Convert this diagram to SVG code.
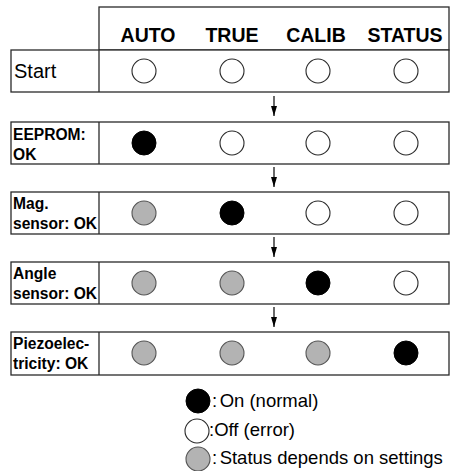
<svg xmlns="http://www.w3.org/2000/svg" width="452" height="471" viewBox="0 0 452 471">
  <style>
    .box { fill: #ffffff; stroke: #2a2a2a; stroke-width: 1.3; }
    .hdr { font-family: "Liberation Sans", Arial, sans-serif; font-weight: bold; font-size: 19.5px; fill: #000; text-anchor: middle; }
    .lbl { font-family: "Liberation Sans", Arial, sans-serif; font-weight: bold; font-size: 15.6px; fill: #000; }
    .start { font-family: "Liberation Sans", Arial, sans-serif; font-size: 20px; fill: #000; }
    .leg { font-family: "Liberation Sans", Arial, sans-serif; font-size: 18.5px; fill: #000; }
    .on { fill: #000000; stroke: #000000; stroke-width: 1; }
    .off { fill: #ffffff; stroke: #2a2a2a; stroke-width: 1.1; }
    .dep { fill: #b3b3b3; stroke: #555555; stroke-width: 1.1; }
    .conn { stroke: #1a1a1a; stroke-width: 1.3; fill: none; }
  </style>
  <defs>
    <!-- arrowhead drawn along +x, rotated to the line direction -->
    <marker id="arrowhead" markerWidth="10" markerHeight="6" refX="10" refY="3" orient="auto" markerUnits="userSpaceOnUse" viewBox="0 0 10 6">
      <path d="M0,0 L10,3 L0,6 Z" fill="#000"/>
    </marker>
  </defs>

  <!-- column header -->
  <g id="header">
    <rect class="box" x="99" y="7" width="350" height="43"/>
    <text class="hdr" x="148" y="42">AUTO</text>
    <text class="hdr" x="232" y="42">TRUE</text>
    <text class="hdr" x="316" y="42">CALIB</text>
    <text class="hdr" x="405" y="42">STATUS</text>
  </g>

  <!-- state rows -->
  <g id="row-start">
    <rect class="box" x="11" y="50" width="438" height="42"/>
    <line class="box" x1="99" y1="50" x2="99" y2="92"/>
    <text class="start" x="14" y="78">Start</text>
    <circle class="off" cx="144" cy="71" r="12"/>
    <circle class="off" cx="232" cy="71" r="12"/>
    <circle class="off" cx="318" cy="71" r="12"/>
    <circle class="off" cx="406" cy="71" r="12"/>
  </g>

  <g id="row-eeprom">
    <rect class="box" x="11" y="122" width="438" height="42"/>
    <line class="box" x1="99" y1="122" x2="99" y2="164"/>
    <text class="lbl" x="13" y="140">EEPROM:</text>
    <text class="lbl" x="13" y="160">OK</text>
    <circle class="on" cx="144" cy="143" r="12"/>
    <circle class="off" cx="232" cy="143" r="12"/>
    <circle class="off" cx="318" cy="143" r="12"/>
    <circle class="off" cx="406" cy="143" r="12"/>
  </g>

  <g id="row-mag">
    <rect class="box" x="11" y="192" width="438" height="42"/>
    <line class="box" x1="99" y1="192" x2="99" y2="234"/>
    <text class="lbl" x="13" y="209">Mag.</text>
    <text class="lbl" x="13" y="229">sensor: OK</text>
    <circle class="dep" cx="144" cy="213" r="12"/>
    <circle class="on" cx="232" cy="213" r="12"/>
    <circle class="off" cx="318" cy="213" r="12"/>
    <circle class="off" cx="406" cy="213" r="12"/>
  </g>

  <g id="row-angle">
    <rect class="box" x="11" y="262" width="438" height="42"/>
    <line class="box" x1="99" y1="262" x2="99" y2="304"/>
    <text class="lbl" x="13" y="279">Angle</text>
    <text class="lbl" x="13" y="299">sensor: OK</text>
    <circle class="dep" cx="144" cy="283" r="12"/>
    <circle class="dep" cx="232" cy="283" r="12"/>
    <circle class="on" cx="318" cy="283" r="12"/>
    <circle class="off" cx="406" cy="283" r="12"/>
  </g>

  <g id="row-piezo">
    <rect class="box" x="11" y="332" width="438" height="43"/>
    <line class="box" x1="99" y1="332" x2="99" y2="375"/>
    <text class="lbl" x="13" y="349">Piezoelec-</text>
    <text class="lbl" x="13" y="369">tricity: OK</text>
    <circle class="dep" cx="144" cy="353" r="12"/>
    <circle class="dep" cx="232" cy="353" r="12"/>
    <circle class="dep" cx="318" cy="353" r="12"/>
    <circle class="on" cx="406" cy="353" r="12"/>
  </g>

  <!-- sequence arrows -->
  <g id="connectors">
    <line class="conn" x1="274" y1="96" x2="274" y2="116" marker-end="url(#arrowhead)"/>
    <line class="conn" x1="274" y1="167" x2="274" y2="187" marker-end="url(#arrowhead)"/>
    <line class="conn" x1="274" y1="237" x2="274" y2="257" marker-end="url(#arrowhead)"/>
    <line class="conn" x1="274" y1="307" x2="274" y2="327" marker-end="url(#arrowhead)"/>
  </g>

  <!-- legend -->
  <g id="legend">
    <circle class="on" cx="198" cy="401" r="12"/>
    <text class="leg" x="212" y="407">:<tspan dx="2.5">On (normal)</tspan></text>
    <circle class="off" cx="197" cy="431" r="12"/>
    <text class="leg" x="209" y="436">:Off (error)</text>
    <circle class="dep" cx="198" cy="459" r="12"/>
    <text class="leg" x="212" y="464">:<tspan dx="2.5">Status depends on settings</tspan></text>
  </g>
</svg>
